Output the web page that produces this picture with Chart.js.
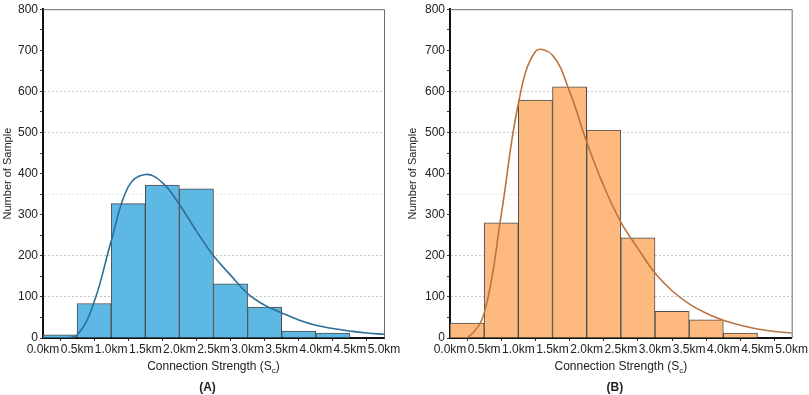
<!DOCTYPE html>
<html>
<head>
<meta charset="utf-8">
<script src="https://cdn.jsdelivr.net/npm/chart.js@4.4.1/dist/chart.umd.min.js"></script>
<style>
  html, body { margin: 0; padding: 0; background: #fff; }
  .panel { position: absolute; top: 0; height: 395px; }
</style>
</head>
<body>
<div class="panel" style="left:0;width:405px"><canvas id="chartA" width="405" height="395"></canvas></div>
<div class="panel" style="left:405px;width:404px"><canvas id="chartB" width="404" height="395"></canvas></div>
<script>
// histogram bins (km)
const binStarts = [0, 0.5, 1.0, 1.5, 2.0, 2.5, 3.0, 3.5, 4.0, 4.5];
const binWidth = 0.5;
const countsA = [8, 84, 327, 372, 363, 132, 75, 17, 12, 0];
const countsB = [36, 280, 579, 611, 506, 244, 65, 44, 12, 0];

// fitted curves
const fitX = [0, 0.25, 0.5, 0.75, 1.0, 1.25, 1.5, 1.75, 2.0, 2.25, 2.5, 2.75, 3.0, 3.25, 3.5, 3.75, 4.0, 4.25, 4.5, 4.75, 5.0];
const fitYA = [0, 0, 7, 88, 236, 368, 398, 378, 325, 260, 200, 153, 108, 80, 61, 44, 31, 23, 17, 12, 9];
const fitYB = [0, 0, 60, 300, 570, 697, 688, 600, 477, 370, 282, 218, 158, 115, 83, 60, 43, 31, 22, 16, 12];

const xTicks = [0, 0.5, 1.0, 1.5, 2.0, 2.5, 3.0, 3.5, 4.0, 4.5, 5.0];
const yTicks = [0, 50, 100, 150, 200, 250, 300, 350, 400, 450, 500, 550, 600, 650, 700, 750, 800];
const yGridLines = [100, 200, 500, 600];
const yFaintLines = [350];

const FONT = '"Liberation Sans", Arial, sans-serif';

const framePlugin = {
  id: 'frame',
  afterDraw(chart, args, opts) {
    const ctx = chart.ctx;
    const a = chart.chartArea;
    ctx.save();
    // top & right frame
    ctx.strokeStyle = '#6a6a6a';
    ctx.lineWidth = 1;
    ctx.beginPath();
    ctx.moveTo(a.left, a.top + 0.5);
    ctx.lineTo(a.right + 0.5, a.top + 0.5);
    ctx.lineTo(a.right + 0.5, a.bottom);
    ctx.stroke();

    ctx.fillStyle = '#222';
    // y title
    ctx.font = '11px ' + FONT;
    ctx.textAlign = 'center';
    ctx.textBaseline = 'middle';
    ctx.save();
    ctx.translate(8, (a.top + a.bottom) / 2);
    ctx.rotate(-Math.PI / 2);
    ctx.fillText('Number of Sample', 0, 0);
    ctx.restore();

    // x title with subscript
    const cx = (a.left + a.right) / 2;
    ctx.font = '12px ' + FONT;
    const t1 = 'Connection Strength (S';
    const w1 = ctx.measureText(t1).width;
    ctx.font = '8px ' + FONT;
    const ws = ctx.measureText('c').width;
    ctx.font = '12px ' + FONT;
    const w2 = ctx.measureText(')').width;
    const x0 = cx - (w1 + ws + w2) / 2;
    ctx.textAlign = 'left';
    ctx.textBaseline = 'alphabetic';
    ctx.fillText(t1, x0, 370);
    ctx.font = '8px ' + FONT;
    ctx.fillText('c', x0 + w1, 373);
    ctx.font = '12px ' + FONT;
    ctx.fillText(')', x0 + w1 + ws, 370);

    // panel label
    ctx.font = 'bold 12px ' + FONT;
    ctx.textAlign = 'center';
    ctx.fillText(opts.label, cx - 6, 391);
    ctx.restore();
  }
};

function makeChart(id, counts, fitY, barColor, lineColor, label, yWidth, padRight) {
  const bars = binStarts.map((s, i) => ({ x: s + binWidth / 2, y: counts[i] }));
  const curve = fitX.map((x, i) => ({ x: x, y: fitY[i] }));
  return new Chart(document.getElementById(id), {
    type: 'bar',
    data: {
      datasets: [
        {
          type: 'line',
          data: curve,
          borderColor: lineColor,
          borderWidth: 1.6,
          pointRadius: 0,
          fill: false,
          tension: 0.4
        },
        {
          type: 'bar',
          data: bars,
          backgroundColor: barColor,
          borderColor: '#4d4d4d',
          borderWidth: 1,
          barPercentage: 1,
          categoryPercentage: 1
        }
      ]
    },
    options: {
      responsive: false,
      animation: false,
      layout: { padding: { top: 6, right: padRight, left: 0, bottom: 0 } },
      plugins: {
        legend: { display: false },
        tooltip: { enabled: false },
        frame: { label: label }
      },
      scales: {
        x: {
          type: 'linear',
          offset: false,
          min: 0,
          max: 5,
          afterBuildTicks: (scale) => { scale.ticks = xTicks.map(v => ({ value: v })); },
          afterFit: (scale) => { scale.height = 57; },
          ticks: {
            autoSkip: false,
            maxRotation: 0,
            padding: 1,
            color: '#222',
            font: { family: FONT, size: 12 },
            callback: (v) => Number(v).toFixed(1) + 'km'
          },
          grid: { drawOnChartArea: false, tickLength: 3, tickColor: '#333' },
          border: { color: '#111', width: 2 }
        },
        y: {
          min: 0,
          max: 800,
          afterBuildTicks: (scale) => { scale.ticks = yTicks.map(v => ({ value: v })); },
          afterFit: (scale) => { scale.width = yWidth; },
          ticks: {
            autoSkip: false,
            padding: 2,
            color: '#222',
            font: { family: FONT, size: 12 },
            callback: (v) => (v % 100 === 0 ? v : '')
          },
          grid: {
            tickLength: 3,
            color: (c) => {
              const v = c.tick ? c.tick.value : null;
              if (yGridLines.includes(v)) return '#c4c4c4';
              if (yFaintLines.includes(v)) return '#e6e6e6';
              return 'rgba(0,0,0,0)';
            },
            tickColor: '#333'
          },
          border: { color: '#111', width: 2, dash: [2, 2] }
        }
      }
    },
    plugins: [framePlugin]
  });
}

makeChart('chartA', countsA, fitYA, '#5db9e3', '#2b6f96', '(A)', 43, 21);
makeChart('chartB', countsB, fitYB, '#fdb97e', '#bb7440', '(B)', 45, 17);
</script>
</body>
</html>
